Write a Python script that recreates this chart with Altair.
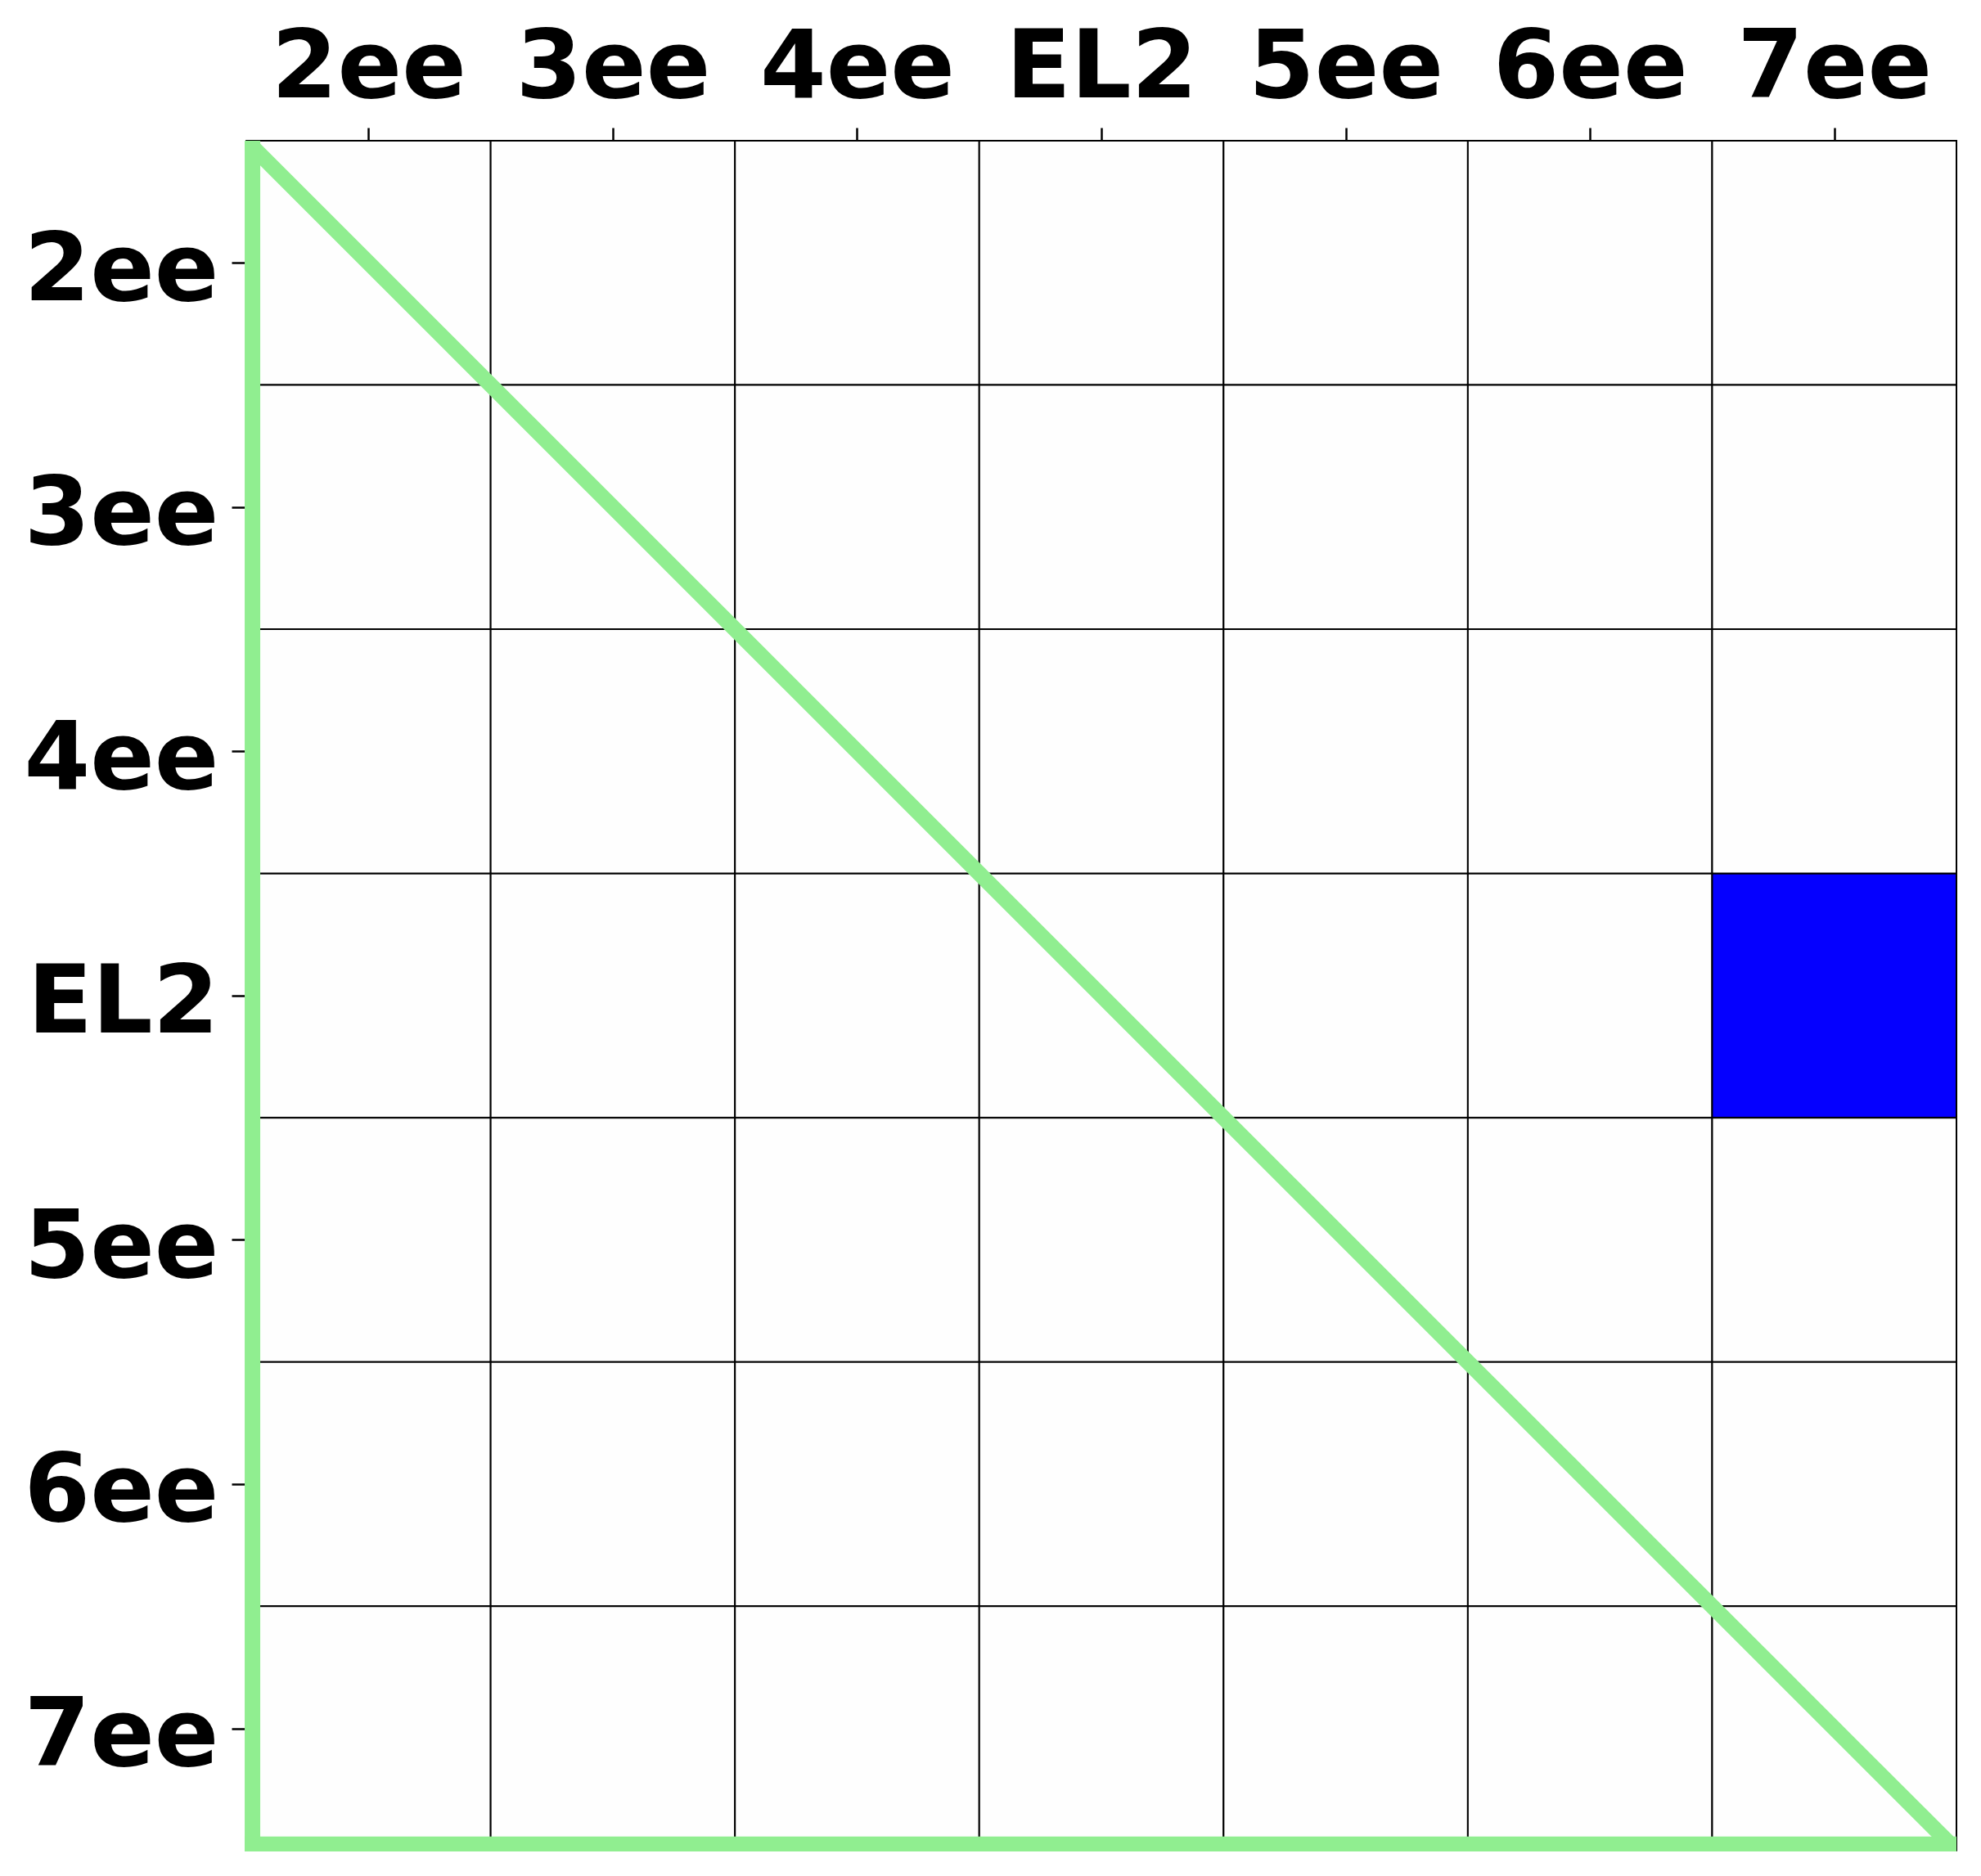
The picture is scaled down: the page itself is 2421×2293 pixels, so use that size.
import json
import altair as alt
import pandas as pd

# ---- data ----
labels = ["2ee", "3ee", "4ee", "EL2", "5ee", "6ee", "7ee"]
matrix = [
    [0, 0, 0, 0, 0, 0, 0],
    [0, 0, 0, 0, 0, 0, 0],
    [0, 0, 0, 0, 0, 0, 0],
    [0, 0, 0, 0, 0, 0, 1],
    [0, 0, 0, 0, 0, 0, 0],
    [0, 0, 0, 0, 0, 0, 0],
    [0, 0, 0, 0, 0, 0, 0],
]
# triangle outline (diagonal, left edge, bottom edge) in cell units
seg_x = [-0.5, -0.475, -0.507]
seg_y = [-0.5, -0.5, 6.475]
seg_x2 = [6.5, -0.475, 6.5]
seg_y2 = [6.5, 6.504, 6.475]

rows = []
for r, row in enumerate(matrix):
    for c, v in enumerate(row):
        rows.append({"x": c - 0.5, "x2": c + 0.5, "y": r - 0.5, "y2": r + 0.5, "v": v})
cells = pd.DataFrame(rows)
segs = pd.DataFrame({"x": seg_x, "y": seg_y, "x2": seg_x2, "y2": seg_y2})

xscale = alt.Scale(domain=[-0.507, 6.5], nice=False, zero=False)
yscale = alt.Scale(domain=[-0.5, 6.504], nice=False, zero=False, reverse=True)
label_expr = json.dumps(labels) + "[datum.value]"

common_axis = dict(
    values=list(range(len(labels))),
    labelExpr=label_expr,
    grid=False,
    domain=False,
    ticks=True,
    tickSize=16,
    tickWidth=2.5,
    tickColor="black",
    labelFont="DejaVu Sans",
    labelFontWeight="bold",
    labelFontSize=116,
    labelColor="black",
    labelFlush=False,
    labelOverlap=False,
    labelLimit=1000,
    labelAngle=0,
    title=None,
)
xaxis = alt.Axis(orient="top", labelPadding=38, labelBaseline="alphabetic", **common_axis)
yaxis = alt.Axis(orient="left", labelPadding=16, labelBaseline="alphabetic",
                 labelOffset=45, labelAlign="right", **common_axis)

rects = alt.Chart(cells).mark_rect(stroke="black", strokeWidth=2).encode(
    x=alt.X("x:Q", scale=xscale, axis=xaxis),
    x2="x2:Q",
    y=alt.Y("y:Q", scale=yscale, axis=yaxis),
    y2="y2:Q",
    color=alt.Color("v:Q", scale=alt.Scale(domain=[0, 1], range=["#fefefe", "#0500ff"]), legend=None),
)

lines = alt.Chart(segs).mark_rule(color="#90ee90", strokeWidth=19, strokeCap="butt", clip=True).encode(
    x=alt.X("x:Q", scale=xscale, axis=xaxis),
    y=alt.Y("y:Q", scale=yscale, axis=yaxis),
    x2="x2:Q",
    y2="y2:Q",
)

chart = alt.layer(rects, lines).properties(
    width=2092,
    height=2091,
    autosize=alt.AutoSizeParams(type="none"),
    padding={"left": 299, "top": 172, "right": 30, "bottom": 30},
    background="white",
).configure_view(stroke=None)

chart.save("out.html", embed_options={"renderer": "svg", "actions": False})
